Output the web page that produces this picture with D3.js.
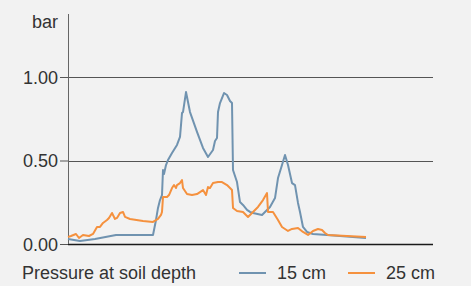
<!DOCTYPE html>
<html>
<head>
<meta charset="utf-8">
<script src="https://cdn.jsdelivr.net/npm/d3@7"></script>
<style>
    html, body { margin: 0; padding: 0; background: #f2f2f2; }
    svg { display: block; }
</style>
</head>
<body>
<div id="chart"></div>
<script>
// Data (position along the track, pressure in bar)
const seriesNames = ['15 cm', '25 cm'];
const seriesColors = ['#7093b0', '#f5913e'];
const yTicks = [0, 0.5, 1];
const yUnit = 'bar';
const legendTitle = 'Pressure at soil depth';

const positions15 = [0, 12, 27, 48, 85, 88, 90, 92, 94, 95, 96, 98, 100, 104, 109, 112, 114, 115, 118, 122, 129, 135, 140,
    145, 147, 149, 150, 152, 156, 159, 162, 164, 165, 169, 172, 175, 179, 182, 185, 194, 197, 202, 207, 210, 214, 217,
    220, 224, 227, 230, 232, 235, 239, 245, 259, 298];
const values15 = [0.030, 0.018, 0.030, 0.054, 0.054, 0.144, 0.216, 0.263, 0.293, 0.443, 0.419, 0.473, 0.503, 0.545,
    0.593, 0.641, 0.784, 0.790, 0.910, 0.790, 0.671, 0.575, 0.521, 0.563, 0.617, 0.635, 0.790, 0.844, 0.904, 0.892,
    0.856, 0.844, 0.443, 0.371, 0.251, 0.234, 0.204, 0.192, 0.186, 0.174, 0.192, 0.222, 0.275, 0.395, 0.473, 0.533,
    0.473, 0.365, 0.353, 0.246, 0.192, 0.102, 0.072, 0.060, 0.054, 0.036];

const positions25 = [0, 3, 8, 11, 15, 21, 25, 29, 32, 35, 39, 41, 44, 47, 49, 52, 55, 57, 62, 75, 85, 90, 93, 94, 95, 99,
    101, 104, 106, 108, 109, 112, 114, 115, 119, 124, 129, 135, 138, 140, 142, 145, 150, 154, 159, 164, 165, 169, 175,
    180, 185, 190, 195, 199, 200, 205, 210, 214, 220, 224, 230, 235, 240, 245, 250, 254, 257, 260, 298];
const values25 = [0.042, 0.048, 0.060, 0.036, 0.054, 0.048, 0.060, 0.102, 0.102, 0.126, 0.144, 0.156, 0.186, 0.150,
    0.156, 0.186, 0.192, 0.162, 0.150, 0.138, 0.132, 0.150, 0.174, 0.192, 0.281, 0.281, 0.293, 0.335, 0.353, 0.335,
    0.353, 0.365, 0.383, 0.335, 0.299, 0.293, 0.299, 0.323, 0.293, 0.341, 0.335, 0.365, 0.371, 0.371, 0.353, 0.323,
    0.216, 0.198, 0.192, 0.162, 0.192, 0.222, 0.263, 0.305, 0.192, 0.192, 0.144, 0.102, 0.078, 0.090, 0.096, 0.072,
    0.054, 0.078, 0.090, 0.084, 0.066, 0.054, 0.042];

const series = [
    d3.zip(positions15, values15),
    d3.zip(positions25, values25)
];

// Configs
const configs = {
    w: 471,
    h: 286,
    left: 68,
    right: 433,
    top: 14,
    yZero: 244,
    yOne: 77,
    xMax: 365,
    font: '"Liberation Sans", Arial, Helvetica, sans-serif',
    fontSize: 18,
    textColor: '#333',
};

// Scales
const scX = d3.scaleLinear().domain([0, configs.xMax]).range([configs.left, configs.right]);
const scY = d3.scaleLinear().domain([0, 1]).range([configs.yZero, configs.yOne]);

// Build svg
const svg = d3.select('#chart')
    .append('svg')
    .attr('width', configs.w)
    .attr('height', configs.h)
    .style('font-family', configs.font)
    .style('font-size', `${configs.fontSize}px`);

svg.append('rect')
    .attr('width', configs.w)
    .attr('height', configs.h)
    .attr('fill', '#f2f2f2');

// Y axis
const axisY = d3.axisLeft(scY)
    .tickValues(yTicks)
    .tickFormat(d3.format('.2f'))
    .tickSize(8)
    .tickPadding(2);

const axisG = svg.append('g')
    .attr('transform', `translate(${configs.left},0)`)
    .call(axisY);
axisG.select('.domain').remove();
axisG.selectAll('line').attr('stroke', '#555');
axisG.selectAll('text')
    .attr('fill', configs.textColor)
    .attr('font-size', configs.fontSize)
    .attr('font-family', configs.font)
    .attr('dy', '0.36em');

// Gridlines
svg.append('g')
    .selectAll('line')
    .data(yTicks)
    .join('line')
    .attr('x1', configs.left)
    .attr('x2', configs.right)
    .attr('y1', d => Math.round(scY(d)) + 0.5)
    .attr('y2', d => Math.round(scY(d)) + 0.5)
    .attr('stroke', d => d === 0 ? '#1a1a1a' : '#555')
    .attr('stroke-width', d => d === 0 ? 1.5 : 1);

// Vertical axis line
svg.append('line')
    .attr('x1', configs.left + 0.5)
    .attr('x2', configs.left + 0.5)
    .attr('y1', configs.top)
    .attr('y2', configs.yZero)
    .attr('stroke', '#666')
    .attr('stroke-width', 1);

// Unit label
svg.append('text')
    .attr('x', 58)
    .attr('y', 28)
    .attr('text-anchor', 'end')
    .attr('fill', configs.textColor)
    .text(yUnit);

// Lines
const line = d3.line()
    .x(d => scX(d[0]))
    .y(d => scY(d[1]));

svg.append('g')
    .selectAll('path')
    .data(series)
    .join('path')
    .attr('d', line)
    .attr('fill', 'none')
    .attr('stroke', (d, i) => seriesColors[i])
    .attr('stroke-width', 2)
    .attr('stroke-linejoin', 'round');

// Legend
const legendG = svg.append('g');
legendG.append('text')
    .attr('x', 22)
    .attr('y', 279)
    .attr('fill', configs.textColor)
    .text(legendTitle);

const legendX = [239, 348];
seriesNames.forEach((name, i) => {
    legendG.append('line')
        .attr('x1', legendX[i])
        .attr('x2', legendX[i] + 27)
        .attr('y1', 273)
        .attr('y2', 273)
        .attr('stroke', seriesColors[i])
        .attr('stroke-width', 2);
    legendG.append('text')
        .attr('x', legendX[i] + 38)
        .attr('y', 279)
        .attr('fill', configs.textColor)
        .text(name);
});
</script>
</body>
</html>
